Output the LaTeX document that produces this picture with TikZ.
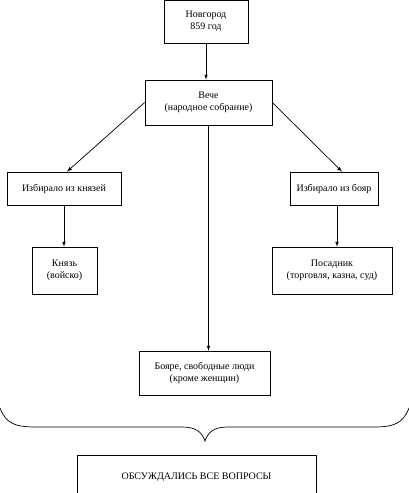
\documentclass[tikz,border=0pt]{standalone}
\usepackage{fontspec}
\setmainfont{Liberation Serif}

\tikzset{
    blok/.style={draw, align=center, inner sep=0pt, font=\fontsize{10}{12}\selectfont},
}

\begin{document}
\begin{tikzpicture}[>=latex, x=1pt, y=-1pt, line width=0.7pt]
    \useasboundingbox (0,0) rectangle (409,493);

    \node[blok, minimum width=84, minimum height=43] (novgorod) at (206,21.5) {Новгород\\859 год};
    \node[blok, minimum width=127, minimum height=45] (veche) at (208.5,102.5) {Вече\\(народное собрание)};

    \node[blok, minimum width=114, minimum height=33] (izKnyazey) at (64,188.5) {Избирало из князей};
    \node[blok, minimum width=88, minimum height=33] (izBoyar) at (334,188.5) {Избирало из бояр};

    \node[blok, minimum width=65, minimum height=47] (knyaz) at (64.5,270.5) {Князь\\(войско)};
    \node[blok, minimum width=120, minimum height=47] (posadnik) at (332,270.5) {Посадник\\(торговля, казна, суд)};

    \node[blok, minimum width=131, minimum height=44] (boyare) at (204.5,373) {Бояре, свободные люди\\(кроме женщин)};
    \node[blok, minimum width=239, minimum height=44] (voprosy) at (196.5,477) {ОБСУЖДАЛИСЬ ВСЕ ВОПРОСЫ};

    \draw[->] (novgorod.south) -- (novgorod.south |- veche.north);
    \draw[->] (veche.west) -- ([xshift=3pt]izKnyazey.north);
    \draw[->] (veche.east) -- ([xshift=8pt]izBoyar.north);
    \draw[->] (izKnyazey.south) -- (izKnyazey.south |- knyaz.north);
    \draw[->] ([xshift=3pt]izBoyar.south) -- ([xshift=3pt]izBoyar.south |- posadnik.north);
    \draw[->] (veche.south) -- (veche.south |- boyare.north);

    % figurnaya skobka
    \draw (0,408) .. controls (6,424) and (16,427) .. (36,427) -- (182,427)
        .. controls (196,427) and (202,432) .. (205,441)
        .. controls (208,432) and (214,427) .. (228,427) -- (373,427)
        .. controls (393,427) and (403,424) .. (409,408);

\end{tikzpicture}
\end{document}
